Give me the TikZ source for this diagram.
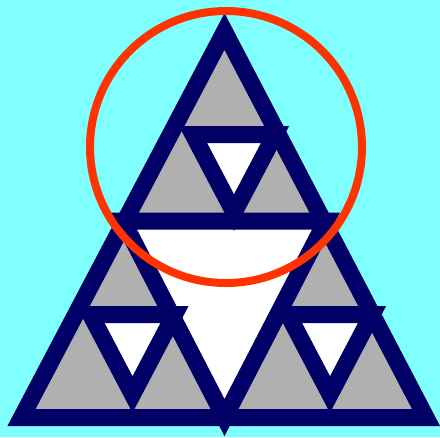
\documentclass[tikz,border=0pt]{standalone}
\usepackage{tikz}
\usepackage{xcolor}
\usetikzlibrary{calc}
\definecolor{skycyan}{HTML}{80FFFF}
\definecolor{deepnavy}{HTML}{000066}
\definecolor{stonegrey}{HTML}{B0B0B0}
\definecolor{flamered}{HTML}{FF3300}

\begin{document}
\begin{tikzpicture}[
    x=0.025cm, y=-0.025cm,
    % Triangle styles
    solidtri/.style={fill=stonegrey, draw=deepnavy, line width=0.425cm, line join=miter},
    holetri/.style={fill=white, draw=deepnavy, line width=0.425cm, line join=miter},
    % Circle style
    ring/.style={draw=flamered, line width=0.2cm},
]

% ============================================================================
% BACKGROUND
% ============================================================================
\fill[skycyan] (0,0) rectangle (440,437);
\useasboundingbox (0,0) rectangle (440,437);

% ============================================================================
% OUTER TRIANGLE
% ============================================================================
\coordinate (cornerA) at (21.5,417.5);
\coordinate (cornerB) at (426,417.5);
\coordinate (apexC) at (224.5,31.5);
\draw[solidtri] (cornerA) -- (cornerB) -- (apexC) -- cycle;

% ============================================================================
% HOLES
% ============================================================================
% Middle hole
\draw[holetri] (123,221) -- (326,221) -- (224.5,417.5) -- cycle;

% Smaller holes (top, lower left, lower right)
\draw[holetri] (193,134.5) -- (275,134.5) -- (234,212.5) -- cycle;
\draw[holetri] (90.5,314.5) -- (174.5,314.5) -- (132.5,394.5) -- cycle;
\draw[holetri] (288,314.5) -- (372,314.5) -- (330,394.5) -- cycle;

% ============================================================================
% CIRCLE
% ============================================================================
\coordinate (ringcentre) at (226,147);
\draw[ring] (ringcentre) circle[radius=136];

\end{tikzpicture}
\end{document}
